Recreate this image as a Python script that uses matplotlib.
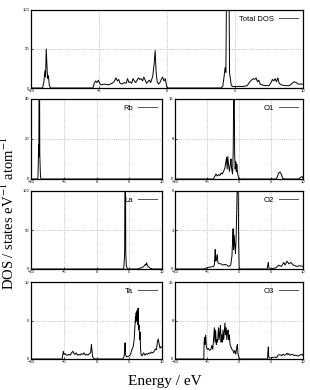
import matplotlib
matplotlib.use("Agg")
import matplotlib.pyplot as plt

plt.rcParams['font.family'] = ['Liberation Sans', 'DejaVu Sans']
plt.rcParams['mathtext.fontset'] = 'stix'

# (energy eV, DOS)
tot_pts = [(-10, 0), (-9.15, 0), (-9.05, 8), (-8.98, 22), (-8.93, 14), (-8.88, 50), (-8.83, 30), (-8.78, 12), (-8.72, 16), (-8.65, 3), (-8.55, 0),
           (-5.45, 0), (-5.35, 6), (-5.25, 9), (-5.15, 7), (-5.05, 10), (-4.95, 6), (-4.85, 4), (-4.6, 5), (-4.3, 4), (-4.05, 6), (-3.9, 8),
           (-3.75, 13), (-3.65, 9), (-3.55, 11), (-3.45, 6), (-3.3, 5), (-3.15, 7), (-3.0, 6), (-2.9, 12), (-2.8, 7), (-2.7, 8), (-2.6, 6),
           (-2.5, 12), (-2.4, 9), (-2.3, 7), (-2.2, 10), (-2.1, 13), (-2.0, 11), (-1.9, 12), (-1.8, 9), (-1.7, 14), (-1.6, 10), (-1.5, 6),
           (-1.4, 8), (-1.3, 10), (-1.2, 7), (-1.05, 15), (-0.95, 30), (-0.87, 48), (-0.8, 20), (-0.72, 8), (-0.62, 5), (-0.52, 7),
           (-0.42, 11), (-0.32, 14), (-0.22, 9), (-0.12, 12), (-0.05, 4), (0.02, 0),
           (3.95, 0), (4.1, 2), (4.2, 15), (4.27, 26), (4.33, 20), (4.38, 130), (4.44, 130), (4.5, 125), (4.56, 130), (4.6, 19), (4.66, 12),
           (4.72, 4), (4.8, 2), (5.2, 2), (5.6, 2), (5.9, 3), (6.05, 7), (6.2, 10), (6.35, 12), (6.45, 11), (6.55, 13), (6.65, 8), (6.75, 10),
           (6.85, 5), (7.0, 4), (7.2, 3), (7.5, 3), (7.65, 7), (7.75, 11), (7.85, 9), (7.95, 12), (8.05, 8), (8.15, 13), (8.25, 6), (8.4, 4),
           (8.7, 3), (9.0, 3), (9.2, 6), (9.35, 8), (9.5, 7), (9.65, 5), (9.8, 5), (10, 5)]

rb_pts = [(-10, 0), (-8.95, 0), (-8.88, 9), (-8.84, 17), (-8.8, 11), (-8.76, 60), (-8.7, 60), (-8.66, 13), (-8.62, 8), (-8.55, 1), (-8.45, 0), (10, 0)]

o1_pts = [(-10, 0), (-4.0, 0), (-3.8, 0.5), (-3.6, 1.0), (-3.4, 0.6), (-3.2, 0.9), (-3.0, 0.7), (-2.8, 1.2), (-2.6, 1.0), (-2.4, 1.6),
          (-2.2, 2.2), (-2.05, 3.5), (-1.95, 4.3), (-1.85, 2.0), (-1.75, 4.5), (-1.65, 3.0), (-1.5, 1.5), (-1.35, 3.0), (-1.25, 4.0),
          (-1.15, 2.0), (-1.0, 1.0), (-0.9, 6), (-0.82, 20), (-0.75, 20), (-0.68, 5), (-0.6, 2), (-0.5, 3.5), (-0.42, 1.5), (-0.35, 3.0),
          (-0.28, 2.0), (-0.2, 1.0), (-0.1, 0.5), (0, 0), (5.8, 0), (6.0, 0.5), (6.2, 1.2), (6.4, 1.4), (6.6, 1.0), (6.8, 0.2), (7.2, 0),
          (9.3, 0), (9.6, 0.3), (9.85, 0.5), (10, 0.2)]

la_pts = [(-10, 0), (4.15, 0), (4.25, 12), (4.3, 24), (4.35, 130), (4.42, 130), (4.47, 20), (4.55, 5), (4.7, 0), (6.3, 0), (6.6, 1),
          (7.0, 2), (7.3, 4), (7.45, 6), (7.55, 5), (7.65, 8), (7.75, 5), (7.9, 3), (8.2, 1), (8.6, 0), (10, 0)]

o2_pts = [(-10, 0), (-5.4, 0), (-5.0, 0.1), (-4.5, 0.15), (-4.0, 0.2), (-3.85, 0.3), (-3.78, 1.0), (-3.72, 1.5), (-3.62, 0.6),
          (-3.5, 0.8), (-3.4, 1.1), (-3.3, 0.5), (-3.1, 0.4), (-2.8, 0.4), (-2.5, 0.3), (-2.2, 0.35), (-1.9, 0.3), (-1.6, 0.2),
          (-1.3, 0.3), (-1.1, 1.0), (-1.0, 2.2), (-0.92, 3.1), (-0.85, 1.5), (-0.75, 2.6), (-0.65, 1.8), (-0.55, 1.2), (-0.45, 2.5),
          (-0.35, 4.5), (-0.28, 6.5), (-0.2, 8), (-0.12, 6), (-0.05, 2), (0.02, 0), (4.4, 0), (4.5, 0.3), (4.58, 0.5), (4.66, 0.1),
          (5.0, 0), (5.8, 0.1), (6.2, 0.3), (6.6, 0.2), (7.0, 0.5), (7.2, 0.3), (7.5, 0.6), (7.8, 0.4), (8.1, 0.5), (8.5, 0.3),
          (9.0, 0.2), (9.5, 0.25), (10, 0.2)]

ta_pts = [(-10, 0), (-5.25, 0), (-5.15, 0.5), (-5.07, 1.0), (-4.95, 0.6), (-4.8, 0.7), (-4.6, 0.5), (-4.4, 0.5), (-4.2, 0.6),
          (-4.0, 0.5), (-3.8, 0.8), (-3.6, 1.0), (-3.45, 0.7), (-3.3, 0.6), (-3.1, 0.8), (-2.9, 0.5), (-2.7, 0.6), (-2.5, 0.5),
          (-2.3, 0.7), (-2.1, 0.6), (-1.9, 0.8), (-1.7, 0.5), (-1.5, 0.6), (-1.3, 0.5), (-1.1, 0.7), (-0.9, 0.8), (-0.78, 1.9),
          (-0.7, 1.2), (-0.6, 0.3), (-0.45, 0.1), (-0.2, 0), (4.0, 0), (4.2, 0.3), (4.3, 1.0), (4.36, 2.1), (4.42, 0.6), (4.55, 0.3),
          (4.8, 0.3), (5.0, 0.4), (5.2, 0.6), (5.4, 1.2), (5.6, 1.6), (5.75, 2.5), (5.85, 4.0), (5.95, 5.5), (6.0, 4.8), (6.05, 6.0),
          (6.12, 5.0), (6.2, 6.3), (6.28, 4.5), (6.35, 6.6), (6.42, 3.8), (6.5, 4.4), (6.58, 2.5), (6.65, 3.5), (6.72, 1.5), (6.8, 0.6),
          (6.95, 0.4), (7.2, 0.8), (7.4, 0.5), (7.6, 0.7), (7.8, 0.6), (8.0, 0.8), (8.2, 0.7), (8.4, 0.9), (8.6, 0.8), (8.8, 1.0),
          (9.0, 1.3), (9.15, 1.2), (9.3, 2.2), (9.42, 2.6), (9.55, 2.0), (9.7, 1.4), (9.85, 1.6), (10, 1.5)]

o3_pts = [(-10, 0), (-5.5, 0), (-5.45, 3.5), (-5.38, 4.5), (-5.3, 3.0), (-5.2, 5.0), (-5.1, 2.5), (-4.95, 2.0), (-4.8, 2.2),
          (-4.6, 1.8), (-4.4, 2.0), (-4.25, 2.8), (-4.1, 2.0), (-3.95, 4.5), (-3.85, 6.5), (-3.75, 3.5), (-3.65, 6.0), (-3.55, 3.0),
          (-3.45, 4.0), (-3.35, 3.5), (-3.2, 6.5), (-3.1, 4.0), (-3.0, 5.5), (-2.9, 7.0), (-2.8, 3.5), (-2.7, 5.0), (-2.6, 3.5),
          (-2.5, 6.0), (-2.4, 4.0), (-2.3, 5.5), (-2.2, 7.5), (-2.1, 5.0), (-2.0, 6.5), (-1.9, 4.0), (-1.8, 5.5), (-1.7, 6.0),
          (-1.6, 4.0), (-1.5, 5.0), (-1.4, 3.0), (-1.25, 2.5), (-1.1, 2.0), (-0.95, 1.8), (-0.8, 1.2), (-0.65, 1.8), (-0.5, 1.0),
          (-0.35, 2.5), (-0.25, 3.0), (-0.15, 1.0), (-0.05, 0.5), (0.05, 0), (4.45, 0), (4.52, 1.5), (4.58, 2.5), (4.64, 0.5),
          (4.75, 0.2), (5.2, 0.3), (5.6, 0.4), (5.9, 0.3), (6.1, 0.8), (6.4, 0.9), (6.7, 0.7), (6.9, 1.0), (7.1, 0.8), (7.3, 0.9),
          (7.5, 1.2), (7.65, 0.9), (7.8, 1.1), (8.0, 0.8), (8.3, 1.0), (8.6, 0.7), (8.9, 0.8), (9.2, 0.6), (9.5, 0.8), (9.8, 1.0),
          (10, 0.7)]

x_ticks = [-10, -5, 0, 5, 10]

# name, data, ymax, box in pixels (left, top, right, bottom)
panels = [
    ("Total DOS", tot_pts, 100, (31, 10, 303, 88)),
    ("Rb", rb_pts, 40, (31, 99, 162, 179)),
    ("O1", o1_pts, 16, (175, 99, 303, 179)),
    ("La", la_pts, 100, (31, 191, 162, 269)),
    ("O2", o2_pts, 6, (175, 191, 303, 269)),
    ("Ta", ta_pts, 10, (31, 282, 162, 359)),
    ("O3", o3_pts, 16, (175, 282, 303, 359)),
]

W, H = 310, 390
fig = plt.figure(figsize=(W / 100, H / 100), dpi=100)

for name, pts, ymax, (l, t, r, b) in panels:
    ax = fig.add_axes([l / W, 1 - b / H, (r - l) / W, (b - t) / H])
    e = [p[0] for p in pts]
    d = [p[1] for p in pts]
    ax.plot(e, d, color='black', lw=0.7, label=name)
    ax.set_xlim(-10, 10)
    ax.set_ylim(0, ymax)
    ax.set_xticks(x_ticks)
    ax.set_yticks([0, ymax / 2, ymax])
    ax.set_yticklabels([str(int(v)) for v in [0, ymax / 2, ymax]])
    ax.grid(True, color='#999999', ls=':', lw=0.5)
    ax.tick_params(labelsize=3, length=1.5, width=0.5, direction='in', pad=1)
    for s in ax.spines.values():
        s.set_linewidth(0.9)
    leg = ax.legend(loc='upper right', frameon=False, markerfirst=False, fontsize=5.5,
                    handlelength=2.5, handletextpad=0.6, borderaxespad=0.3)
    leg.get_lines()[0].set_color('#555555')

fig.text(8 / W, 1 - 213 / H, "DOS / states eV$^{-1}$ atom$^{-1}$", rotation=90,
         ha='center', va='center', fontsize=10.5, family='Liberation Serif')
fig.text(165 / W, 1 - 381 / H, "Energy / eV", ha='center', va='center',
         fontsize=11, family='Liberation Serif')

fig.savefig("out.png", dpi=100)
